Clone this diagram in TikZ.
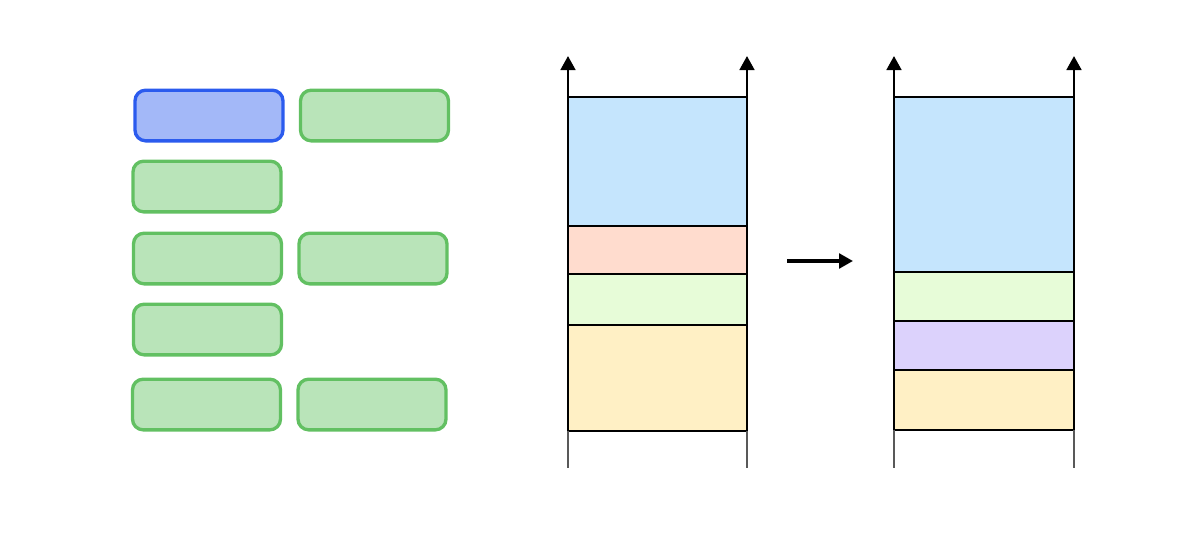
\documentclass[tikz,border=0pt]{standalone}
\usetikzlibrary{arrows.meta}
\definecolor{bluefill}{HTML}{A3B8F8}
\definecolor{bluestroke}{HTML}{2B5BEE}
\definecolor{greenfill}{HTML}{B9E4B9}
\definecolor{greenstroke}{HTML}{62C062}
\definecolor{layblue}{HTML}{C5E5FD}
\definecolor{laypeach}{HTML}{FFDCCE}
\definecolor{laygreen}{HTML}{E7FCD8}
\definecolor{layyellow}{HTML}{FFF0C5}
\definecolor{laypurple}{HTML}{DCD2FC}
\begin{document}
\begin{tikzpicture}[x=0.75pt,y=-0.75pt,
  pill/.style={draw, rounded corners=8pt, line width=2.5pt, minimum width=111pt, minimum height=38pt, inner sep=0pt},
  greenpill/.style={pill, draw=greenstroke, fill=greenfill},
  bluepill/.style={pill, draw=bluestroke, fill=bluefill},
  layer/.style={draw=black, line width=1.6pt},
  axis/.style={draw=black, line width=2pt, -{Triangle[width=11pt,length=10.5pt]}},
  mover/.style={draw=black, line width=2.6pt, -{Triangle[width=11pt,length=10.5pt]}},
  tail/.style={draw=black!65, line width=1.2pt}
]
\useasboundingbox (0,0) rectangle (1200,554);
% left pills
\node[bluepill]  (b1) at (209,115.5) {};
\node[greenpill] (g1) at (374.5,115.5) {};
\node[greenpill] (g2) at (207,186.5) {};
\node[greenpill] (g3) at (207.5,258.5) {};
\node[greenpill] (g4) at (373,258.5) {};
\node[greenpill] (g5) at (207.5,329.5) {};
\node[greenpill] (g6) at (206.5,404.5) {};
\node[greenpill] (g7) at (372,404.5) {};
% middle stack
\filldraw[layer, fill=layblue]   (568,97) rectangle (747,226);
\filldraw[layer, fill=laypeach]  (568,226) rectangle (747,274);
\filldraw[layer, fill=laygreen]  (568,274) rectangle (747,325);
\filldraw[layer, fill=layyellow] (568,325) rectangle (747,431);
\coordinate (mlb) at (568,431);
\coordinate (mlt) at (568,56);
\coordinate (mrb) at (747,431);
\coordinate (mrt) at (747,56);
\coordinate (mle) at (568,468);
\coordinate (mre) at (747,468);
\draw[axis] (mlb) -- (mlt);
\draw[axis] (mrb) -- (mrt);
\draw[tail] (mlb) -- (mle);
\draw[tail] (mrb) -- (mre);
% right stack
\filldraw[layer, fill=layblue]   (894,97) rectangle (1074,272);
\filldraw[layer, fill=laygreen]  (894,272) rectangle (1074,321);
\filldraw[layer, fill=laypurple] (894,321) rectangle (1074,370);
\filldraw[layer, fill=layyellow] (894,370) rectangle (1074,430);
\coordinate (rlb) at (894,430);
\coordinate (rlt) at (894,56);
\coordinate (rrb) at (1074,430);
\coordinate (rrt) at (1074,56);
\coordinate (rle) at (894,468);
\coordinate (rre) at (1074,468);
\draw[axis] (rlb) -- (rlt);
\draw[axis] (rrb) -- (rrt);
\draw[tail] (rlb) -- (rle);
\draw[tail] (rrb) -- (rre);
% transition arrow
\coordinate (as) at (787,261);
\coordinate (ae) at (853,261);
\draw[mover] (as) -- (ae);
\end{tikzpicture}
\end{document}
